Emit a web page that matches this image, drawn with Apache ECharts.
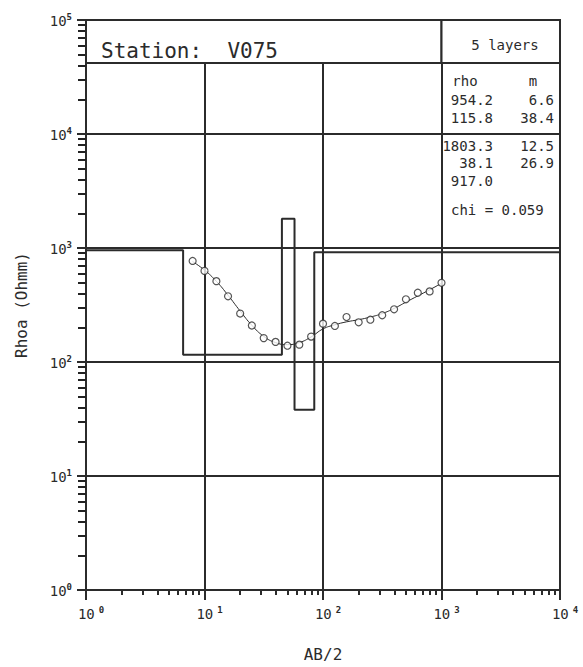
<!DOCTYPE html>
<html><head><meta charset="utf-8">
<script src="https://cdn.jsdelivr.net/npm/echarts@6/dist/echarts.min.js"></script>
<style>html,body{margin:0;padding:0;background:#fff}#c{width:583px;height:667px}</style>
</head><body><div id="c"></div>
<script>
const stationName = 'V075';
const abHalf = [7.94, 10, 12.6, 15.8, 20, 25.1, 31.6, 39.8, 50.1, 63.1, 79.4, 100, 126, 158, 200, 251, 316, 398, 501, 631, 794, 1000];
const rhoaObserved = [770, 630, 512, 377, 266, 209, 162, 150, 139, 142, 167, 217, 207, 248, 223, 235, 257, 290, 355, 405, 416, 495];
const rhoaFitted = [760, 640, 510, 385, 280, 210, 168, 148, 142, 148, 166, 195, 212, 225, 235, 248, 266, 295, 335, 380, 430, 490];
const layerRho = [954.2, 115.8, 1803.3, 38.1, 917.0];
const layerThickness = [6.6, 38.4, 12.5, 26.9];
const chiValue = 0.059;
const xRange = [1, 10000];
const yRange = [1, 100000];
const xDecades = [1, 10, 100, 1000];
const yDecades = [1, 10, 100, 1000, 10000];
const minorMultipliers = [2, 3, 4, 5, 6, 7, 8, 9];
const titleBoxBottom = 42000;

const INK = '#2b2b2b';
const MONO = 'DejaVu Sans Mono';

const stepData = [];
let x0 = xRange[0], depth = 0;
layerRho.forEach((r, i) => {
  let x1;
  if (i < layerThickness.length) { depth += layerThickness[i]; x1 = depth; } else { x1 = xRange[1]; }
  stepData.push([x0, r], [x1, r]);
  x0 = x1;
});

const xMinorVals = [], yMinorVals = [];
xDecades.forEach(d => minorMultipliers.forEach(m => xMinorVals.push(d * m)));
yDecades.forEach(d => minorMultipliers.forEach(m => yMinorVals.push(d * m)));

const chart = echarts.init(document.getElementById('c'), null, {renderer: 'svg'});

const richX = {
  pad: {width: 10, fontSize: 9},
  b: {fontFamily: MONO, fontSize: 14, color: INK, lineHeight: 16, verticalAlign: 'bottom'},
  s: {fontFamily: MONO, fontSize: 9, fontWeight: 'bold', color: INK, lineHeight: 10, verticalAlign: 'top', padding: [0, 0, 0, 4]}
};
const richY = {
  b: {fontFamily: MONO, fontSize: 14, color: INK, lineHeight: 16, verticalAlign: 'bottom'},
  s: {fontFamily: MONO, fontSize: 9, fontWeight: 'bold', color: INK, lineHeight: 10, verticalAlign: 'top', padding: [0, 0, 0, 0]}
};
const expo = v => Math.round(Math.log10(v));

const txt = (x, y, text, opts) => ({type: 'text', x, y, z: 100, style: Object.assign({text, font: '14px ' + MONO, fill: INK, textVerticalAlign: 'middle'}, opts || {})});

const tableText = [];
const rowY = [100, 118, 146, 163, 181];
layerRho.forEach((r, i) => {
  tableText.push(txt(493, rowY[i], r.toFixed(1), {textAlign: 'right'}));
  if (i < layerThickness.length) tableText.push(txt(554, rowY[i], layerThickness[i].toFixed(1), {textAlign: 'right'}));
});

const minorAxisCommon = {
  type: 'log', logBase: 10,
  axisLine: {show: false}, axisLabel: {show: false}, splitLine: {show: false},
  name: ''
};

chart.setOption({
  animation: false,
  backgroundColor: '#fff',
  grid: {left: 86, right: 23, top: 20, bottom: 74, show: true, borderColor: INK, borderWidth: 2, backgroundColor: 'transparent'},
  xAxis: [{
    type: 'log', logBase: 10, min: xRange[0], max: xRange[1], splitNumber: 4,
    name: 'AB/2', nameLocation: 'middle', nameGap: 56,
    nameTextStyle: {fontFamily: MONO, fontSize: 16, color: INK},
    axisLine: {lineStyle: {color: INK, width: 2}},
    axisTick: {show: true, length: 10, lineStyle: {color: INK, width: 2}},
    splitLine: {show: true, lineStyle: {color: INK, width: 2}},
    axisLabel: {margin: 15, formatter: v => '{pad|}{b|10}{s|' + expo(v) + '}', rich: richX}
  }, Object.assign({}, minorAxisCommon, {
    position: 'bottom', min: xRange[0], max: xRange[1],
    axisTick: {show: true, length: 5, customValues: xMinorVals, lineStyle: {color: INK, width: 2}}
  })],
  yAxis: [{
    type: 'log', logBase: 10, min: yRange[0], max: yRange[1], splitNumber: 5,
    name: 'Rhoa (Ohmm)', nameLocation: 'middle', nameGap: 57, nameRotate: 90,
    nameTextStyle: {fontFamily: MONO, fontSize: 16, color: INK},
    axisLine: {lineStyle: {color: INK, width: 2}},
    axisTick: {show: true, length: 9, lineStyle: {color: INK, width: 2}},
    splitLine: {show: true, lineStyle: {color: INK, width: 2}},
    axisLabel: {margin: 14, formatter: v => '{b|10}{s|' + expo(v) + '}', rich: richY}
  }, Object.assign({}, minorAxisCommon, {
    position: 'left', min: yRange[0], max: yRange[1],
    axisTick: {show: true, length: 8, customValues: yMinorVals, lineStyle: {color: '#222', width: 2}}
  })],
  series: [
    {
      type: 'line', name: 'model', data: stepData, showSymbol: false, symbol: 'none',
      lineStyle: {color: INK, width: 2}, z: 3,
      markArea: {
        silent: true,
        itemStyle: {color: '#fff', borderColor: INK, borderWidth: 2},
        data: [
          [{coord: [xRange[0], titleBoxBottom]}, {coord: [1000, yRange[1]]}],
          [{coord: [1000, titleBoxBottom]}, {coord: [xRange[1], yRange[1]]}]
        ]
      }
    },
    {
      type: 'line', name: 'fit', data: abHalf.map((x, i) => [x, rhoaFitted[i]]), smooth: true, symbol: 'none',
      lineStyle: {color: INK, width: 1}, z: 4
    },
    {
      type: 'scatter', name: 'observed', data: abHalf.map((x, i) => [x, rhoaObserved[i]]), symbol: 'circle', symbolSize: 7,
      itemStyle: {color: '#fff', borderColor: INK, borderWidth: 1.2}, z: 5
    }
  ],
  graphic: [
    txt(101, 51, 'Station:  ' + stationName, {font: '21px ' + MONO}),
    txt(505, 45, layerRho.length + ' layers', {textAlign: 'center'}),
    txt(465, 81, 'rho', {textAlign: 'center'}),
    txt(533, 81, 'm', {textAlign: 'center'}),
    ...tableText,
    txt(451, 210, 'chi = ' + chiValue.toFixed(3))
  ]
});
</script></body></html>
